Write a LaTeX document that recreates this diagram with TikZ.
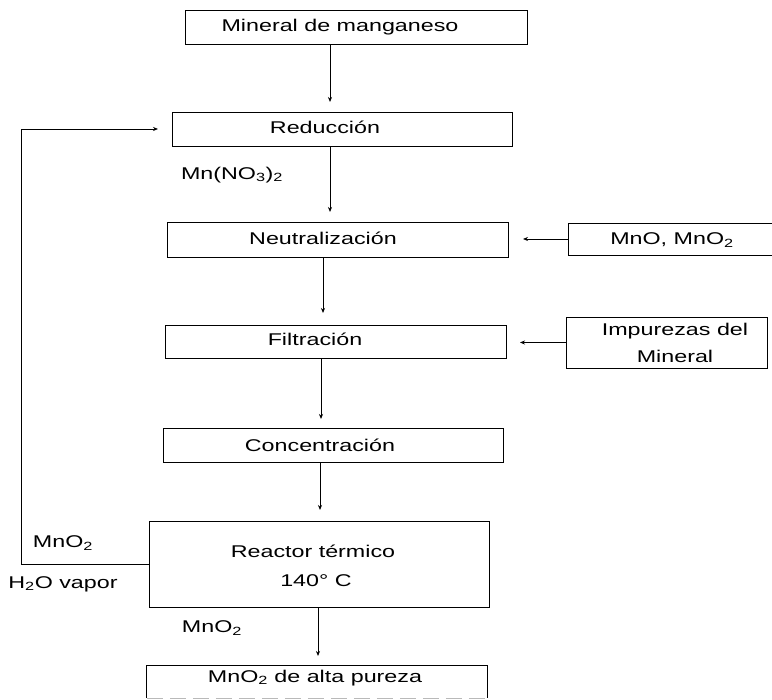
\documentclass[tikz,border=0pt]{standalone}
\usepackage{fontspec}
\setmainfont{Liberation Sans}[FakeStretch=1.37]
\usetikzlibrary{arrows.meta}

\begin{document}
\begin{tikzpicture}[x=1pt,y=-1pt,
  every node/.style={font=\fontsize{17}{20}\selectfont, inner sep=0pt},
  box/.style={draw, line width=0.9pt, rectangle},
  label text/.style={anchor=center},
  arr/.style={line width=0.8pt, -{Stealth[length=5pt,width=4pt]}},
  flow/.style={line width=0.8pt}]

\useasboundingbox (0,0) rectangle (772,700);
\clip (0,0) rectangle (772,700);

% process boxes
\node[box, minimum width=342pt, minimum height=34pt] (b1) at (356,27) {};
\node[box, minimum width=340pt, minimum height=34pt] (b2) at (342,129) {};
\node[box, minimum width=341pt, minimum height=35pt] (b3) at (337.5,239.5) {};
\node[box, minimum width=222pt, minimum height=32pt] (b4) at (679,239) {};
\node[box, minimum width=341pt, minimum height=33pt] (b5) at (335.5,341.5) {};
\node[box, minimum width=201pt, minimum height=51pt] (b6) at (666.5,342.5) {};
\node[box, minimum width=340pt, minimum height=34pt] (b7) at (333,445) {};
\node[box, minimum width=340pt, minimum height=86pt] (b8) at (319,564) {};
\node[minimum width=340pt, minimum height=32pt] (b9) at (317,682) {};
\draw[line width=0.9pt] (b9.south west) -- (b9.north west) -- (b9.north east) -- (b9.south east);
\draw[line width=0.9pt, gray!55, dash pattern=on 16pt off 7pt] (b9.south west) -- (b9.south east);

% box texts
\node (t1) at (340,27) {Mineral de manganeso};
\node (t2) at (325,127) {Reducción};
\node (t3) at (323,238) {Neutralización};
\node (t4) at (672,240) {MnO, MnO\textsubscript{2}};
\node (t5) at (315,339) {Filtración};
\node (t6) at (675,331) {Impurezas del};
\node (t6b) at (675,356) {Mineral};
\node (t7) at (320,445) {Concentración};
\node (t8) at (313,551) {Reactor térmico};
\node (t8b) at (316,581) {140° C};
\node (t9) at (315,678) {MnO\textsubscript{2} de alta pureza};

% stream labels
\node (l1) at (232,175) {Mn(NO\textsubscript{3})\textsubscript{2}};
\node (l2) at (63,543) {MnO\textsubscript{2}};
\node (l3) at (63,584) {H\textsubscript{2}O vapor};
\node (l4) at (212,628) {MnO\textsubscript{2}};

% arrow end points
\coordinate (e1) at (330,102);
\coordinate (e2) at (330,212);
\coordinate (e3) at (323,313);
\coordinate (e4) at (321,419);
\coordinate (e5) at (320,510);
\coordinate (e6) at (318,656);
\coordinate (s1) at (523,240);
\coordinate (s2) at (520,343);
\coordinate (fb) at (21,564);
\coordinate (fbT) at (158,129);

% main flow
\draw[arr] (e1 |- b1.south) -- (e1);
\draw[arr] (e2 |- b2.south) -- (e2);
\draw[arr] (e3 |- b3.south) -- (e3);
\draw[arr] (e4 |- b5.south) -- (e4);
\draw[arr] (e5 |- b7.south) -- (e5);
\draw[arr] (e6 |- b8.south) -- (e6);

% side feeds
\draw[arr] (b4.west) -- (b4.west -| s1);
\draw[arr] (b6.west) -- (b6.west -| s2);

% MnO2 recycle to the reduction step
\draw[arr] (b8.west) -- (fb) -- (fb |- fbT) -- (fbT);

\end{tikzpicture}
\end{document}
